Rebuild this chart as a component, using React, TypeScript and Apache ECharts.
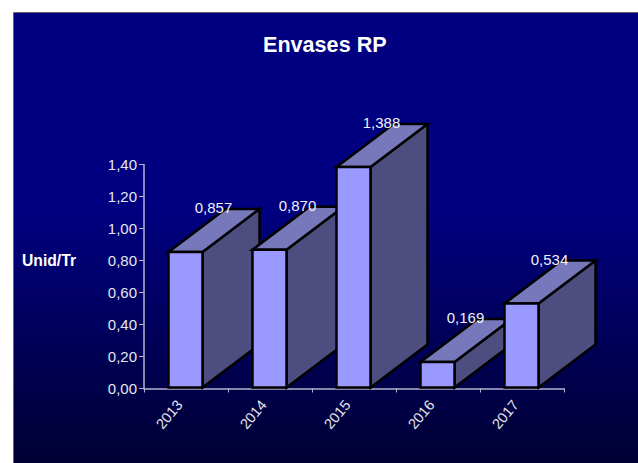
import React, { useEffect, useRef } from "react";
import * as echarts from "echarts";

const categories = ["2013", "2014", "2015", "2016", "2017"];
const values = [0.857, 0.87, 1.388, 0.169, 0.534];
const yMin = 0;
const yMax = 1.4;
const yStep = 0.2;

const WIDTH = 638;
const HEIGHT = 463;
const DEPTH_X = 57;
const DEPTH_Y = 43;
const BAR_RATIO = 0.405;
const FONT = '"Liberation Sans", Arial, sans-serif';

export default function App() {
  const ref = useRef<HTMLDivElement>(null);
  useEffect(() => {
    if (!ref.current) return;
    const chart = echarts.init(ref.current, null, { renderer: "svg" });
    chart.setOption({
      animation: false,
      backgroundColor: "#ffffff",
      textStyle: { fontFamily: FONT },
      graphic: [
        {
          type: "rect",
          z: -10,
          silent: true,
          shape: { x: 13.5, y: 12.5, width: 640, height: 470 },
          style: {
            stroke: "#666666",
            lineWidth: 1,
            fill: new echarts.graphic.LinearGradient(0, 0, 0, 1, [
              { offset: 0, color: "#000080" },
              { offset: 0.42, color: "#000080" },
              { offset: 1, color: "#00002e" },
            ]),
          },
        },
        {
          type: "text",
          silent: true,
          style: {
            x: 22,
            y: 260,
            text: "Unid/Tr",
            fill: "#ffffff",
            fontSize: 15.7,
            fontWeight: "bold",
            fontFamily: FONT,
            align: "left",
            verticalAlign: "middle",
          },
        },
      ],
      title: {
        text: "Envases RP",
        left: 258,
        top: 28,
        textStyle: { color: "#ffffff", fontSize: 21.6, fontWeight: "bold", fontFamily: FONT },
      },
      grid: { left: 144, right: WIDTH - 564, top: 164.5, bottom: HEIGHT - 388.5 },
      xAxis: {
        type: "category",
        data: categories,
        axisLine: { lineStyle: { color: "#b4b4cc", width: 1.5 } },
        axisTick: { show: true, length: 4, alignWithLabel: false, lineStyle: { color: "#b4b4cc" } },
        axisLabel: {
          color: "#e6e6ee",
          fontSize: 14.5,
          rotate: 50,
          margin: 6,
          padding: [0, 10, 0, 0],
          fontFamily: FONT,
        },
      },
      yAxis: {
        type: "value",
        min: yMin,
        max: yMax,
        interval: yStep,
        splitLine: { show: false },
        axisLine: { show: true, lineStyle: { color: "#b4b4cc", width: 1.5 } },
        axisTick: { show: true, length: 5, lineStyle: { color: "#b4b4cc" } },
        axisLabel: {
          color: "#e6e6ee",
          fontSize: 15,
          margin: 7,
          fontFamily: FONT,
          formatter: (v: number) => v.toFixed(2).replace(".", ","),
        },
      },
      series: [
        {
          type: "custom",
          clip: false,
          z: 3,
          data: values.map((v, i) => [i, v]),
          encode: { x: 0, y: 1 },
          renderItem: (_p: any, api: any) => {
            const top = api.coord([api.value(0), api.value(1)]);
            const base = api.coord([api.value(0), 0]);
            const w = api.size([1, 0])[0] * BAR_RATIO;
            const x0 = top[0] - w / 2 - 0.5;
            const x1 = x0 + w;
            const yt = top[1] + 0.5;
            const yb = base[1] - 1;
            const stroke = { stroke: "#000000", lineWidth: 2.5, lineJoin: "miter" };
            return {
              type: "group",
              children: [
                {
                  type: "polygon",
                  shape: {
                    points: [
                      [x1, yb],
                      [x1 + DEPTH_X, yb - DEPTH_Y],
                      [x1 + DEPTH_X, yt - DEPTH_Y],
                      [x1, yt],
                    ],
                  },
                  style: { fill: "#4d4d80", ...stroke },
                },
                {
                  type: "polygon",
                  shape: {
                    points: [
                      [x0, yt],
                      [x0 + DEPTH_X, yt - DEPTH_Y],
                      [x1 + DEPTH_X, yt - DEPTH_Y],
                      [x1, yt],
                    ],
                  },
                  style: { fill: "#7777bb", ...stroke },
                },
                {
                  type: "rect",
                  shape: { x: x0, y: yt, width: w, height: yb - yt },
                  style: { fill: "#9999ff", ...stroke },
                },
              ],
            };
          },
        },
        {
          type: "custom",
          clip: false,
          z: 5,
          silent: true,
          data: values.map((v, i) => [i, v]),
          encode: { x: 0, y: 1 },
          renderItem: (_p: any, api: any) => {
            const top = api.coord([api.value(0), api.value(1)]);
            return {
              type: "text",
              style: {
                x: top[0] + DEPTH_X / 2 - 1,
                y: top[1] - DEPTH_Y - 1,
                text: api.value(1).toFixed(3).replace(".", ","),
                fill: "#f0f0f5",
                fontSize: 15,
                fontFamily: FONT,
                align: "center",
                verticalAlign: "middle",
              },
            };
          },
        },
      ],
    });
    return () => chart.dispose();
  }, []);
  return (
    <div
      ref={ref}
      style={{ position: "absolute", left: 0, top: 0, width: WIDTH, height: HEIGHT }}
    />
  );
}
